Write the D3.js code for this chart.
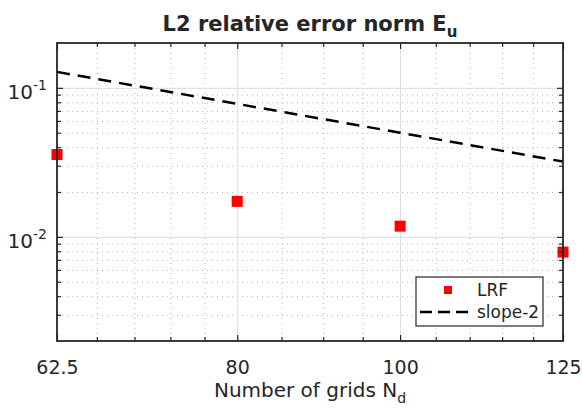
<!doctype html>
<html lang="en">
<head>
<meta charset="UTF-8">
<title>L2 relative error norm</title>
<script src="https://d3js.org/d3.v7.min.js"></script>
<style>
  body { margin: 0; background: #fff; }
  text { font-family: "DejaVu Sans", sans-serif; fill: #262626; }
</style>
</head>
<body>
<script>
  // data
  var grids = [62.5, 80, 100, 125];
  var lrfError = [0.0357, 0.0173, 0.0118, 0.0079];
  var slopeGrids = [62.5, 80, 100, 125];
  var slopeValues = [0.128, 0.0781, 0.05, 0.032];

  // ticks
  var xTicks = [62.5, 80, 100, 125];
  var xTickLabels = ["62.5", "80", "100", "125"];
  var xMinorTicks = [66, 69.5, 73, 76.5, 85, 90, 95, 105, 110, 115, 120];
  var yTicks = [0.01, 0.1];
  var yTickExp = ["-2", "-1"];
  var yMinorTicks = [0.003, 0.004, 0.005, 0.006, 0.007, 0.008, 0.009,
                     0.02, 0.03, 0.04, 0.05, 0.06, 0.07, 0.08, 0.09];
  var legendLabels = ["LRF", "slope-2"];

  var width = 582, height = 408;
  var margin = {left: 57, top: 43, right: 19, bottom: 67};
  var w = width - margin.left - margin.right,
      h = height - margin.top - margin.bottom;

  var svg = d3.select("body").append("svg")
      .attr("width", width)
      .attr("height", height);

  var g = svg.append("g")
      .attr("transform", "translate(" + margin.left + "," + margin.top + ")");

  var x = d3.scaleLog().domain([62.5, 125]).range([0, w]);
  var y = d3.scaleLog().domain([0.002, 0.2]).range([h, 0]);

  g.append("rect").attr("width", w).attr("height", h).attr("fill", "#fff");

  // minor grid (dotted)
  g.append("g")
      .call(d3.axisBottom(x).tickValues(xMinorTicks).tickFormat("").tickSize(h))
      .call(function(s) { s.select(".domain").remove(); })
      .selectAll("line")
      .attr("stroke", "#b4b4b4")
      .attr("stroke-dasharray", "1,4");

  g.append("g")
      .call(d3.axisLeft(y).tickValues(yMinorTicks).tickFormat("").tickSize(-w))
      .call(function(s) { s.select(".domain").remove(); })
      .selectAll("line")
      .attr("stroke", "#b4b4b4")
      .attr("stroke-dasharray", "1,4");

  // major grid
  g.append("g")
      .call(d3.axisBottom(x).tickValues([80, 100]).tickFormat("").tickSize(h))
      .call(function(s) { s.select(".domain").remove(); })
      .selectAll("line")
      .attr("stroke", "#dcdcdc");

  g.append("g")
      .call(d3.axisLeft(y).tickValues(yTicks).tickFormat("").tickSize(-w))
      .call(function(s) { s.select(".domain").remove(); })
      .selectAll("line")
      .attr("stroke", "#dcdcdc");

  // slope -2 reference line
  var line = d3.line()
      .x(function(d, i) { return x(slopeGrids[i]); })
      .y(function(d) { return y(d); });

  g.append("path")
      .datum(slopeValues)
      .attr("d", line)
      .attr("fill", "none")
      .attr("stroke", "#000")
      .attr("stroke-width", 2.5)
      .attr("stroke-dasharray", "13,8");

  // LRF markers
  var ms = 11;
  g.selectAll(".pt")
      .data(lrfError)
      .enter().append("rect")
      .attr("class", "pt")
      .attr("x", function(d, i) { return x(grids[i]) - ms / 2; })
      .attr("y", function(d) { return y(d) - ms / 2; })
      .attr("width", ms)
      .attr("height", ms)
      .attr("fill", "#ff0000");

  // axes with inward ticks on all sides
  var tickCol = "#262626";
  function styleTicks(s) {
    s.select(".domain").remove();
    s.selectAll("line").attr("stroke", tickCol).attr("stroke-width", 1.2);
  }
  g.append("g").attr("transform", "translate(0," + h + ")")
      .call(d3.axisBottom(x).tickValues(xMinorTicks).tickFormat("").tickSize(-4)).call(styleTicks);
  g.append("g")
      .call(d3.axisTop(x).tickValues(xMinorTicks).tickFormat("").tickSize(-4)).call(styleTicks);
  g.append("g")
      .call(d3.axisLeft(y).tickValues(yMinorTicks).tickFormat("").tickSize(-4)).call(styleTicks);
  g.append("g").attr("transform", "translate(" + w + ",0)")
      .call(d3.axisRight(y).tickValues(yMinorTicks).tickFormat("").tickSize(-4)).call(styleTicks);

  g.append("g").attr("transform", "translate(0," + h + ")")
      .call(d3.axisBottom(x).tickValues(xTicks).tickSize(-6).tickPadding(20)
        .tickFormat(function(d, i) { return xTickLabels[i]; }))
      .call(styleTicks)
      .selectAll("text")
      .attr("font-size", "19px")
      .attr("font-family", "DejaVu Sans")
      .attr("fill", "#262626");
  g.append("g")
      .call(d3.axisTop(x).tickValues(xTicks).tickFormat("").tickSize(-6)).call(styleTicks);

  g.append("g")
      .call(d3.axisLeft(y).tickValues(yTicks).tickSize(-6).tickFormat(""))
      .call(styleTicks)
      .selectAll(".tick")
      .append("text")
      .attr("x", -10)
      .attr("y", 11)
      .attr("text-anchor", "end")
      .attr("font-size", "20px")
      .each(function(d, i) {
        var t = d3.select(this);
        t.append("tspan").text("10");
        t.append("tspan").attr("font-size", "14px").attr("dy", -9).text(yTickExp[i]);
      });
  g.append("g").attr("transform", "translate(" + w + ",0)")
      .call(d3.axisRight(y).tickValues(yTicks).tickFormat("").tickSize(-6)).call(styleTicks);

  // frame
  g.append("rect")
      .attr("width", w).attr("height", h)
      .attr("fill", "none")
      .attr("stroke", tickCol)
      .attr("stroke-width", 1.8);

  // title
  var title = svg.append("text")
      .attr("x", margin.left + w / 2)
      .attr("y", 31)
      .attr("text-anchor", "middle")
      .attr("font-size", "21px")
      .attr("font-weight", "bold")
      .attr("fill", "#000");
  title.append("tspan").text("L2 relative error norm E");
  title.append("tspan").attr("font-size", "15px").attr("dy", 6).text("u");

  // x label
  var xl = svg.append("text")
      .attr("x", margin.left + w / 2)
      .attr("y", 397)
      .attr("text-anchor", "middle")
      .attr("font-size", "20px");
  xl.append("tspan").text("Number of grids N");
  xl.append("tspan").attr("font-size", "14px").attr("dy", 6).text("d");

  // legend
  var lg = svg.append("g").attr("transform", "translate(416,277)");
  lg.append("rect")
      .attr("width", 127).attr("height", 49)
      .attr("fill", "#fff")
      .attr("stroke", tickCol)
      .attr("stroke-width", 1.2);
  lg.append("rect")
      .attr("x", 32 - 4).attr("y", 13 - 4)
      .attr("width", 8).attr("height", 8)
      .attr("fill", "#ff0000");
  lg.append("line")
      .attr("x1", 4).attr("x2", 58)
      .attr("y1", 35).attr("y2", 35)
      .attr("stroke", "#000")
      .attr("stroke-width", 2.5)
      .attr("stroke-dasharray", "12,6");
  lg.selectAll(".lt")
      .data(legendLabels)
      .enter().append("text")
      .attr("class", "lt")
      .attr("x", 61)
      .attr("y", function(d, i) { return 19 + i * 22; })
      .attr("font-size", "17px")
      .text(function(d) { return d; });
</script>
</body>
</html>
